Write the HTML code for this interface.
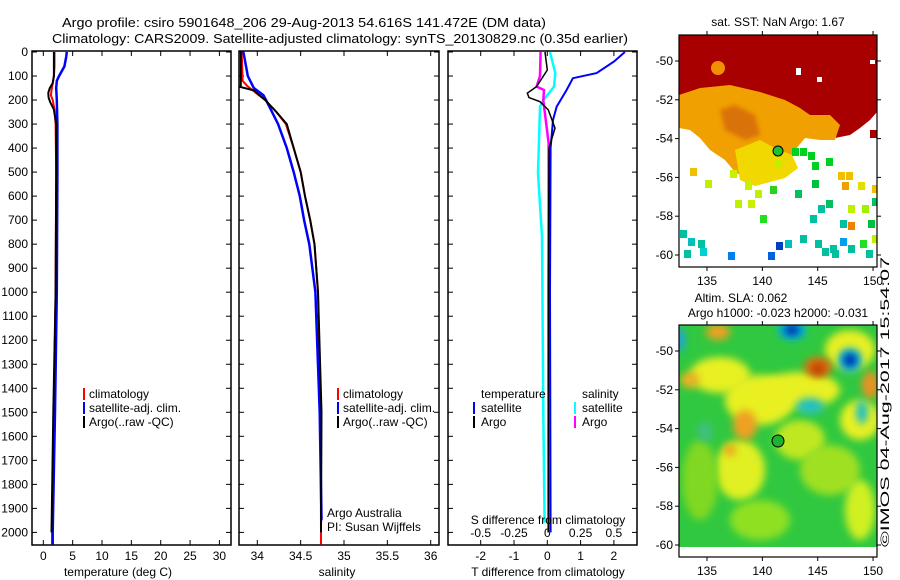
<!DOCTYPE html>
<html><head><meta charset="utf-8"><style>
html,body{margin:0;padding:0;background:#fff}
svg{display:block;font-family:"Liberation Sans",sans-serif}
</style></head><body>
<svg id="fig" width="900" height="580" viewBox="0 0 900 580">
<defs>
<filter id="blur3" x="-50%" y="-50%" width="200%" height="200%"><feGaussianBlur stdDeviation="4"/></filter>
<filter id="blur2" x="-50%" y="-50%" width="200%" height="200%"><feGaussianBlur stdDeviation="2"/></filter>
<clipPath id="clipTop"><rect x="679" y="35" width="198" height="232"/></clipPath>
<clipPath id="clipBot"><rect x="679" y="325" width="198" height="222"/></clipPath>
<clipPath id="cp1"><rect x="32" y="51" width="199" height="494"/></clipPath>
<clipPath id="cp2"><rect x="239" y="51" width="200" height="494"/></clipPath>
<clipPath id="cp3"><rect x="448" y="51" width="189" height="494"/></clipPath>
</defs>
<text x="62" y="27" font-size="13" textLength="484" lengthAdjust="spacingAndGlyphs">Argo profile: csiro 5901648_206 29-Aug-2013 54.616S 141.472E (DM data)</text>
<text x="52" y="43" font-size="13" textLength="576" lengthAdjust="spacingAndGlyphs">Climatology: CARS2009. Satellite-adjusted climatology: synTS_20130829.nc (0.35d earlier)</text>
<g id="panels"></g>
<g id="maps"></g>
<text transform="translate(889,547) rotate(-90)" font-size="12" textLength="290" lengthAdjust="spacingAndGlyphs">©IMOS 04-Aug-2017 15:54:07</text>
</svg>
<script>
// ---------- data ----------
const depthTicks = [0,100,200,300,400,500,600,700,800,900,1000,1100,1200,1300,1400,1500,1600,1700,1800,1900,2000];
const tempTicks = [0,5,10,15,20,25,30];
const salTicks = ["34","34.5","35","35.5","36"];
const tdiffTicks = [-2,-1,0,1,2];
const sdiffTicks = ["-0.5","-0.25","0","0.25","0.5"];

const tClimDepth = [0,60,100,130,160,180,200,240,300,500,1000,1500,2000,2050];
const tClimVal   = [1.9,1.9,1.8,1.6,1.4,1.3,1.6,1.9,2.1,2.2,2.1,1.8,1.5,1.5];
const tSatDepth  = [0,20,60,100,120,150,200,300,500,1000,1500,2000,2050];
const tSatVal    = [4.0,3.9,3.6,2.7,2.3,2.2,2.3,2.4,2.4,2.3,2.0,1.6,1.6];
const tArgoDepth = [0,60,100,130,150,170,190,210,240,300,500,1000,1500,2000];
const tArgoVal   = [1.8,1.8,1.8,1.6,1.1,0.85,0.9,1.2,1.8,2.2,2.2,2.1,1.7,1.4];

const sClimDepth = [0,120,140,175,200,250,300,400,500,600,700,800,1000,1500,2000,2050];
const sClimVal   = [33.82,33.83,33.88,34.0,34.09,34.22,34.33,34.42,34.5,34.55,34.61,34.66,34.70,34.73,34.735,34.735];
const sSatDepth  = [0,100,150,180,200,300,400,500,600,700,800,1000,1500,1950];
const sSatVal    = [33.84,33.89,33.96,34.07,34.1,34.24,34.34,34.42,34.49,34.54,34.6,34.67,34.72,34.74];
const sArgoDepth = [0,140,145,160,200,250,300,400,500,600,700,800,1000,1500,2000];
const sArgoVal   = [33.81,33.81,33.8,33.96,34.09,34.22,34.34,34.42,34.5,34.55,34.61,34.66,34.70,34.74,34.735];

const dTSatDepth = [0,40,88,109,158,228,283,400,1000,2000];
const dTSatVal   = [2.33,2.0,1.48,0.77,0.58,0.28,0.17,0.1,0.08,0.1];
const dTArgoDepth= [0,75,144,171,190,207,241,317,400,1000,2000];
const dTArgoVal  = [-0.07,0,-0.32,-0.6,-0.55,-0.22,0.03,0.23,0.05,0.03,0.03];
const dSSatDepth = [0,88,144,201,228,505,769,1500,1960];
const dSSatVal   = [0.02,0.06,0.05,-0.03,-0.055,-0.07,-0.04,-0.03,-0.02];
const dSArgoDepth= [0,100,144,158,201,378,1000,2000];
const dSArgoVal  = [-0.05,-0.055,-0.08,-0.025,-0.03,0.01,0.01,0.01];

// ---------- axes ----------
const yD = d => 52 + d*0.2402;
const xT = v => 43.3 + v*5.87;
const xS = v => 257.3 + (v-34)*86.7;
const xDT = v => 547.3 + v*33.3;
const xDS = v => 547.3 + v*133.2;

const NS="http://www.w3.org/2000/svg";
const panels=document.getElementById('panels');
function el(tag,attrs,parent){const e=document.createElementNS(NS,tag);for(const k in attrs)e.setAttribute(k,attrs[k]);(parent||panels).appendChild(e);return e;}
function txt(s,x,y,size,anchor,parent){const t=el('text',{x:x,y:y,'font-size':size,'text-anchor':anchor||'start'},parent);t.textContent=s;return t;}

function frame(x0,x1,name){
  const r=el('rect',{x:x0,y:51,width:x1-x0,height:494,fill:'none',stroke:'#000','stroke-width':1.5});
  
  
  depthTicks.forEach(d=>{const y=yD(d);el('line',{x1:x0,x2:x0+5,y1:y,y2:y,stroke:'#000'});el('line',{x1:x1-5,x2:x1,y1:y,y2:y,stroke:'#000'});});
}
function xticks(vals,fx,labelY,name){
  vals.forEach(v=>{const x=fx(+v);el('line',{x1:x,x2:x,y1:545,y2:540,stroke:'#000'});el('line',{x1:x,x2:x,y1:51,y2:56,stroke:'#000'});
    const t=txt(String(v),x,labelY,12,'middle');
    
    });
}
function series(ds,vs,fx,color,w,clip,name){
  let d='';ds.forEach((dep,i)=>{d+=(i?'L':'M')+fx(vs[i]).toFixed(1)+','+yD(dep).toFixed(1);});
  const p=el('path',{d:d,fill:'none',stroke:color,'stroke-width':w,'clip-path':'url(#'+clip+')'});
  
  
}
depthTicks.forEach(d=>{const t=txt(String(d),28,yD(d)+4,12,'end');
  
  });

// panel 1
frame(32,231,'temperature-panel');
xticks(tempTicks,xT,560,'temperature');
series(tClimDepth,tClimVal,xT,'#f00',2,'cp1','temperature-climatology-line');
series(tSatDepth,tSatVal,xT,'#00f',2.5,'cp1','temperature-satellite-line');
series(tArgoDepth,tArgoVal,xT,'#000',2,'cp1','temperature-argo-line');
let t=txt('temperature (deg C)',118,576,12,'middle');

// panel 2
frame(239,439,'salinity-panel');
xticks(salTicks,xS,560,'salinity');
series(sClimDepth,sClimVal,xS,'#f00',2,'cp2','salinity-climatology-line');
series(sSatDepth,sSatVal,xS,'#00f',2.5,'cp2','salinity-satellite-line');
series(sArgoDepth,sArgoVal,xS,'#000',2,'cp2','salinity-argo-line');
t=txt('salinity',337,576,12,'middle');
t=txt('Argo Australia',327,517,12);
t=txt('PI: Susan Wijffels',327,531,12);

function legend(x,name){
  [['climatology','#f00',398],['satellite-adj. clim.','#00f',412],['Argo(..raw -QC)','#000',426]].forEach(a=>{
    el('rect',{x:x,y:a[2]-10,width:2,height:12,fill:a[1]});
    const tt=txt(a[0],x+6,a[2],12);
    
    
  });
}
legend(83,'temperature');legend(337,'salinity');

// panel 3
frame(448,637,'difference-panel');
xticks(tdiffTicks,xDT,560,'t-difference');
sdiffTicks.forEach(v=>{const x=xDS(+v);const tt=txt(v,x,537,12,'middle');
  
  });
series(dSSatDepth,dSSatVal,xDS,'#0ff',2.5,'cp3','s-diff-satellite-line');
series(dSArgoDepth,dSArgoVal,xDS,'#f0f',2.5,'cp3','s-diff-argo-line');
series(dTSatDepth,dTSatVal,xDT,'#00f',2,'cp3','t-diff-satellite-line');
series(dTArgoDepth,dTArgoVal,xDT,'#000',1.5,'cp3','t-diff-argo-line');
t=txt('S difference from climatology',548,524,12,'middle');
t=txt('T difference from climatology',548,576,12,'middle');
[['temperature',481,398,null],['satellite',481,412,'#00f'],['Argo',481,426,'#000'],['salinity',582,398,null],['satellite',582,412,'#0ff'],['Argo',582,426,'#f0f']].forEach(a=>{
  if(a[3])el('rect',{x:a[1]-8,y:a[2]-10,width:2,height:12,fill:a[3]});
  const tt=txt(a[0],a[1],a[2],12);
  
  
});

// ---------- maps ----------
const maps=document.getElementById('maps');
const mLon = v => 707 + (v-135)*11.07;
const latTicks=[-50,-52,-54,-56,-58,-60];
const lonTicks=[135,140,145,150];
function mapFrame(top,lat50,name){
  const r=el('rect',{x:679,y:top,width:198,height:232,fill:'none',stroke:'#000','stroke-width':1.2},maps);
  
  
  latTicks.forEach(l=>{const y=lat50+(-50-l)*19.4;el('line',{x1:679,x2:675,y1:y,y2:y,stroke:'#000'},maps);el('line',{x1:877,x2:881,y1:y,y2:y,stroke:'#000'},maps);
    const tt=txt(String(l),673,y+4,12,'end',maps);});
  lonTicks.forEach(l=>{const x=mLon(l);el('line',{x1:x,x2:x,y1:top,y2:top-4,stroke:'#000'},maps);el('line',{x1:x,x2:x,y1:top+232,y2:top+236,stroke:'#000'},maps);
    const tt=txt(String(l),x,top+250,12,'middle',maps);});
}
const g1=el('g',{'clip-path':'url(#clipTop)'},maps);


el('rect',{x:679,y:35,width:198,height:232,fill:'#fff'},g1);
el('path',{d:'M679,35H877V112L870,120L860,128L850,135L835,138L820,130L805,118L790,108L770,98L750,94L720,92L700,95L679,100Z',fill:'#a80000'},g1);
el('path',{d:'M679,95L700,88L730,85L760,92L785,100L800,108L810,115L830,115L840,125L835,140L820,140L805,138L795,150L785,165L770,172L760,178L748,180L735,172L725,160L710,150L700,138L690,130L679,128Z',fill:'#f0a000'},g1);
el('path',{d:'M735,150L760,140L775,148L792,155L798,168L785,178L770,182L755,186L740,180Z',fill:'#f0d800'},g1);
el('path',{d:'M720,110L735,105L755,115L760,135L745,140L725,130Z',fill:'#d06010',opacity:0.7,filter:'url(#blur2)'},g1);
el('circle',{cx:718,cy:68,r:7,fill:'#f09000'},g1);
const cells=[[730,170,'#c8f000'],[745,182,'#c8f000'],[755,190,'#c0f000'],[770,186,'#30d020'],[792,148,'#00d020'],[800,148,'#00d020'],[808,152,'#00d020'],[812,162,'#00d020'],[826,158,'#00d020'],[838,172,'#f0c000'],[846,172,'#f0c000'],[842,182,'#f0a000'],[858,182,'#e0e000'],[872,185,'#f0c000'],[795,190,'#00c060'],[812,180,'#00c040'],[818,205,'#00c0a0'],[826,200,'#00c060'],[848,205,'#c0f000'],[862,205,'#a0f000'],[872,198,'#00c060'],[810,215,'#00c0a0'],[840,220,'#00c0a0'],[848,222,'#f08000'],[868,220,'#00c040'],[680,230,'#00c0a0'],[688,238,'#00c0c0'],[698,240,'#00c0a0'],[684,250,'#00c0a0'],[700,248,'#00d0d0'],[728,252,'#0080f0'],[768,252,'#0060e0'],[776,242,'#0040c0'],[785,240,'#00c0c0'],[800,235,'#00c0a0'],[815,240,'#00c0a0'],[830,245,'#00c0a0'],[840,238,'#00a0f0'],[848,245,'#00c0a0'],[860,240,'#20e020'],[872,235,'#c0f000'],[866,250,'#00c0a0'],[870,130,'#a80000'],[760,215,'#20e020'],[748,200,'#c8f000'],[735,200,'#c0f000'],[690,168,'#f0c000'],[705,180,'#c0f000'],[775,160,'#c0f000'],[832,250,'#00c0a0'],[822,248,'#00c0a0']];
cells.forEach(c=>el('rect',{x:c[0],y:c[1],width:7,height:8,fill:c[2]},g1));
el('rect',{x:796,y:68,width:5,height:7,fill:'#fff'},g1);
el('rect',{x:817,y:77,width:5,height:5,fill:'#fff'},g1);
el('rect',{x:870,y:60,width:5,height:4,fill:'#fff'},g1);
el('circle',{cx:778,cy:151,r:5,fill:'#20c030',stroke:'#000'},g1);
mapFrame(35,61,'sst-map-frame');
t=txt('sat. SST: NaN Argo: 1.67',778,26,12,'middle',maps);

const g2=el('g',{'clip-path':'url(#clipBot)'},maps);


el('rect',{x:679,y:325,width:198,height:232,fill:'#fff'},g2);
el('rect',{x:679,y:325,width:198,height:222,fill:'#30c840'},g2);
const blobs=[[720,375,30,18,'#e8f020'],[760,400,35,25,'#e8f020'],[800,390,40,18,'#e8f020'],[850,350,25,20,'#e8f020'],[740,470,25,30,'#e0f020'],[800,440,25,20,'#c0e820'],[860,420,20,20,'#e8f020'],[830,470,30,25,'#a0e020'],[700,480,18,40,'#80d820'],[760,520,30,20,'#90e020'],[860,510,15,30,'#d0f020'],
[718,332,12,8,'#f0a020'],[745,425,12,15,'#f0a020'],[818,367,14,10,'#e07010'],[818,369,7,6,'#c04000'],[870,385,8,14,'#f09020'],[690,380,10,8,'#f0b020'],[730,450,6,6,'#f0a020'],
[792,330,14,10,'#00b0e0'],[792,330,7,5,'#0020a0'],[850,360,12,12,'#00b0e0'],[850,360,6,6,'#0020a0'],[810,406,14,8,'#20c0c0'],[862,412,6,12,'#20c0c0'],[680,340,5,12,'#20a0e0'],[705,432,8,10,'#40c080']];
blobs.forEach(b=>el('ellipse',{cx:b[0],cy:b[1],rx:b[2],ry:b[3],fill:b[4],filter:'url(#blur3)'},g2));
el('circle',{cx:778,cy:441,r:6,fill:'#20b030',stroke:'#000'},g2);
mapFrame(325,351,'sla-map-frame');
t=txt('Altim. SLA: 0.062',741,302,12,'middle',maps);
t=txt('Argo h1000: -0.023 h2000: -0.031',778,317,12,'middle',maps);
</script>
</body></html>
